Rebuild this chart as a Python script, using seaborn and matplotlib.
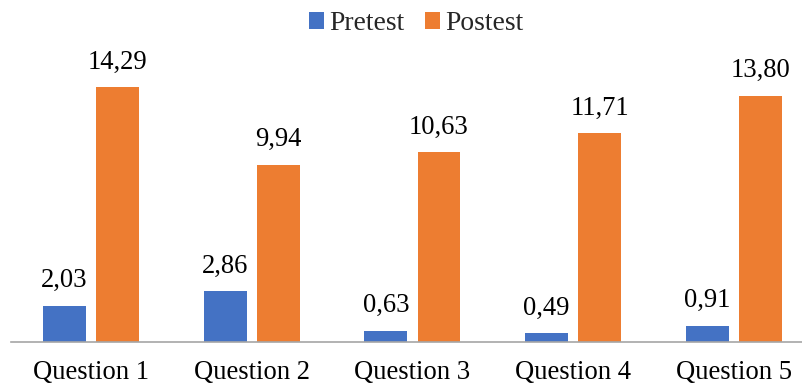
import matplotlib
matplotlib.use("Agg")
import matplotlib.pyplot as plt
import seaborn as sns
import pandas as pd

categories = ["Question 1", "Question 2", "Question 3", "Question 4", "Question 5"]
pretest = [2.03, 2.86, 0.63, 0.49, 0.91]
postest = [14.29, 9.94, 10.63, 11.71, 13.80]
series_names = ["Pretest", "Postest"]
colors = ["#4472C4", "#ED7D31"]

sns.set_theme(style="white")
plt.rcParams['font.family'] = ['Liberation Serif', 'DejaVu Serif']

df = pd.DataFrame({
    "category": categories * 2,
    "value": pretest + postest,
    "series": [series_names[0]] * len(categories) + [series_names[1]] * len(categories),
})

fig = plt.figure(figsize=(8.03, 3.86), dpi=100)
W, H = 803, 386
ax = fig.add_axes([11 / W, 44 / H, 1 - 11 / W, (342 - 57) / H])

sns.barplot(data=df, x="category", y="value", hue="series", order=categories,
            hue_order=series_names, palette=colors, width=0.66, gap=0.19,
            saturation=1, ax=ax, errorbar=None, linewidth=0)

for cont in ax.containers:
    labels = [f"{v:.2f}".replace(".", ",") for v in cont.datavalues]
    ax.bar_label(cont, labels=labels, padding=9, fontsize=19.2, color="#000000")

ax.set_xlim(-0.498, 4.43)
ax.set_ylim(0, 285 / 17.84)
ax.set_xlabel("")
ax.set_ylabel("")
ax.set_yticks([])
for s in ["top", "right", "left"]:
    ax.spines[s].set_visible(False)
ax.spines["bottom"].set_color("#A6A6A6")
ax.spines["bottom"].set_linewidth(1.2)
ax.tick_params(axis="x", length=0, pad=13, labelsize=19.2, colors="#000000")

handles, lbls = ax.get_legend_handles_labels()
if ax.legend_:
    ax.legend_.remove()
fig.legend(handles, lbls, loc="center", bbox_to_anchor=(416 / W, 1 - 24 / H),
           ncol=2, frameon=False, fontsize=19.8, handlelength=0.55, handleheight=0.55,
           handletextpad=0.18, columnspacing=0.75, borderaxespad=0)

fig.savefig("out.png", dpi=100)
